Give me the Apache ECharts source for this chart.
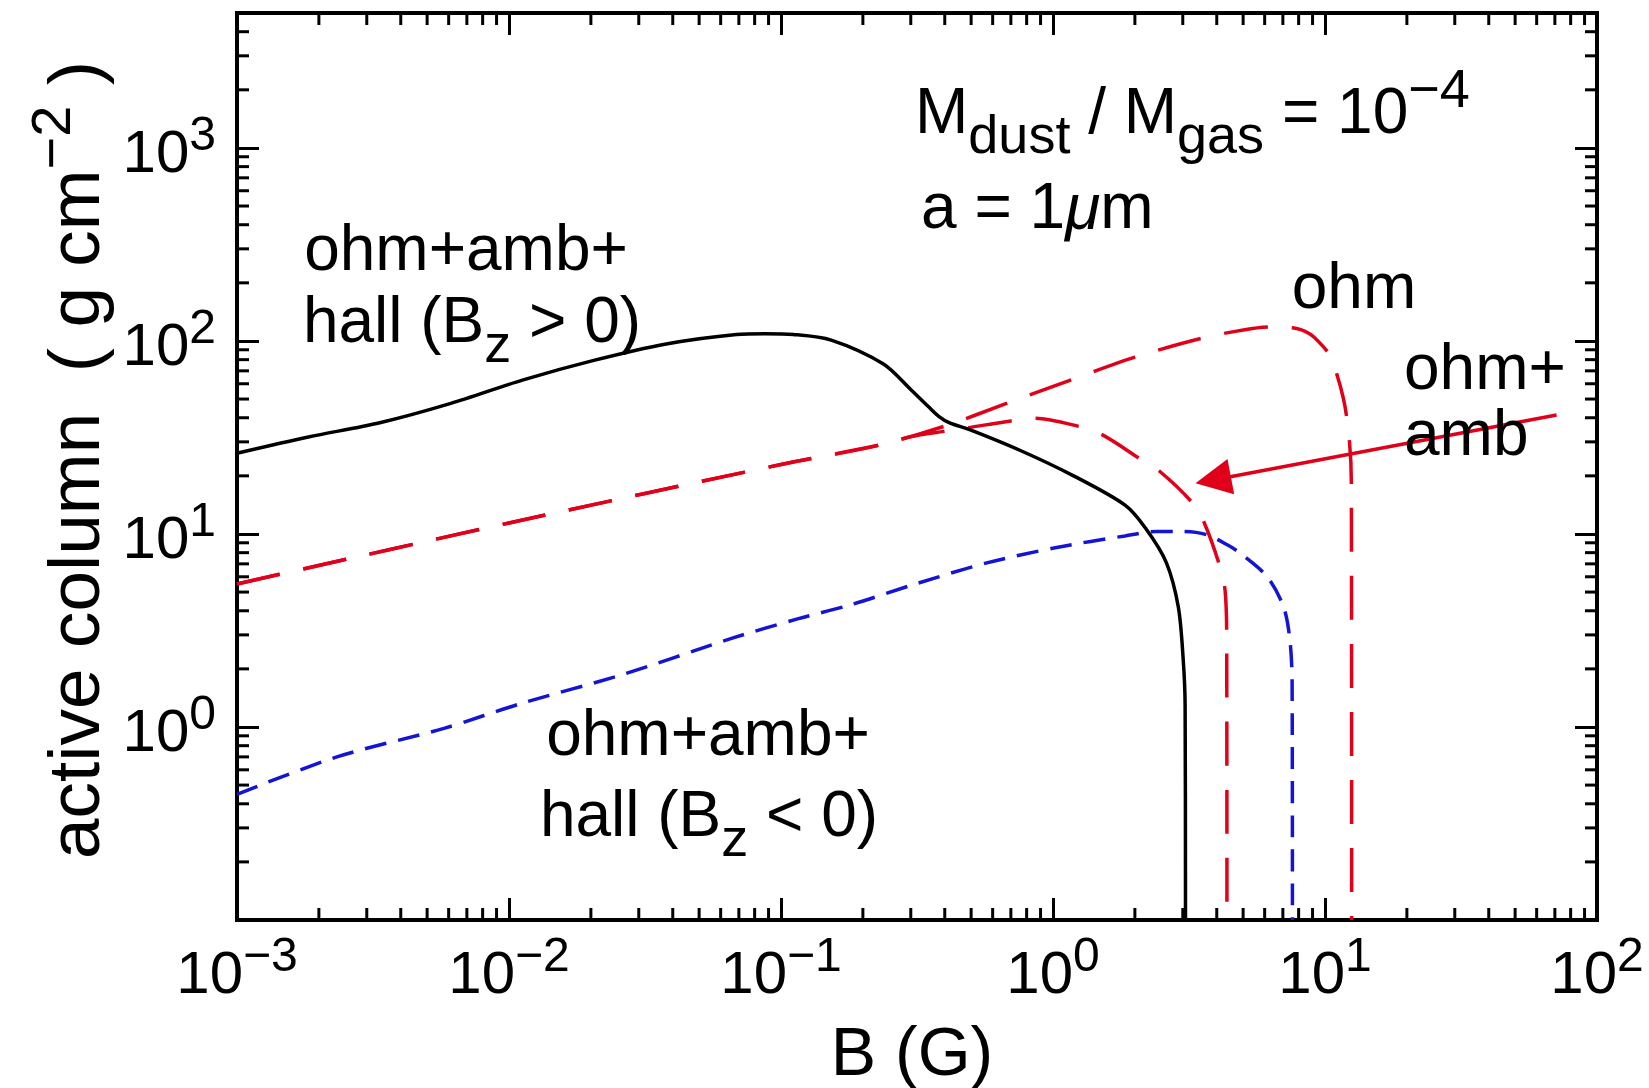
<!DOCTYPE html>
<html>
<head>
<meta charset="utf-8">
<script src="https://cdn.jsdelivr.net/npm/echarts@6/dist/echarts.min.js"></script>
<style>
html,body{margin:0;padding:0;background:#fff;}
#chart{width:1649px;height:1088px;}
</style>
</head>
<body>
<div id="chart"></div>
<script>
// ---------------- data ----------------
const X_MIN = 1e-3, X_MAX = 1e2, Y_MIN = 0.1, Y_MAX = 5000;
const xLabelExponents = [-3, -2, -1, 0, 1, 2];
const yLabelExponents = [0, 1, 2, 3];
const xDecades = [0.001, 0.01, 0.1, 1, 10];
const yDecades = [0.1, 1, 10, 100, 1000];
const minorMultipliers = [2, 3, 4, 5, 6, 7, 8, 9];

// ohm+amb+hall (Bz > 0)  -- black solid
const hallPosB = [0.001, 0.00183, 0.00335, 0.00611, 0.0112, 0.0205, 0.0374, 0.0686, 0.087, 0.111, 0.153, 0.238, 0.301, 0.348, 0.380, 0.417, 0.494, 0.766, 1.19, 1.84, 2.19, 2.61, 2.89, 3.01, 3.06, 3.07];
const hallPosC = [26.2, 31.8, 37.7, 47.5, 62.7, 79.3, 96.2, 108, 109, 108, 101, 75.9, 55.7, 45.7, 40.7, 37.6, 34.7, 26.9, 20.0, 14.1, 10.7, 7.11, 4.17, 2.25, 1.3, 0.1];

// ohm  -- red long dash
const ohmB = [0.001, 0.01, 0.1, 0.228, 0.397, 0.671, 1.17, 2.00, 3.49, 5.01, 6.31, 7.59, 8.77, 9.64, 10.5, 11.7, 12.3, 12.5, 12.53];
const ohmC = [5.51, 11.4, 22.9, 28.8, 36.1, 47.3, 63.0, 82.4, 103, 114, 118, 117, 109, 96.6, 82.4, 49.9, 30.2, 18.3, 0.1];

// ohm+amb  -- red long dash
const ohmAmbB = [0.001, 0.01, 0.1, 0.228, 0.302, 0.397, 0.480, 0.700, 0.861, 1.24, 1.52, 2.09, 2.46, 3.24, 3.60, 4.10, 4.29, 4.35, 4.36];
const ohmAmbC = [5.51, 11.4, 22.9, 28.8, 32.0, 34.0, 35.4, 38.5, 39.8, 36.1, 32.6, 24.5, 21.2, 14.6, 11.4, 6.84, 5.13, 3.0, 0.1];

// ohm+amb+hall (Bz < 0)  -- blue short dash
const hallNegB = [0.001, 0.00233, 0.00577, 0.0112, 0.0262, 0.0649, 0.115, 0.178, 0.319, 0.571, 1.03, 1.84, 2.40, 3.02, 3.67, 4.42, 4.86, 6.11, 7.03, 7.43, 7.57, 7.59];
const hallNegC = [0.448, 0.70, 0.984, 1.33, 1.87, 2.86, 3.63, 4.27, 5.56, 7.08, 8.51, 9.77, 10.3, 10.3, 9.91, 8.71, 7.98, 6.03, 4.22, 2.83, 1.69, 0.1];

// arrow pointing at the ohm+amb curve (data coords)
const arrowFrom = [71, 41.3];
const arrowTo = [3.88, 19.05];

// ---------------- style ----------------
const RED = '#e1001a', BLUE = '#1414d4', BLACK = '#000';
const FF = '"Liberation Sans", Arial, Helvetica, sans-serif';
const K = 0.8465;

function richSet(f, fs, color, raise, drop) {
  const Bb = Math.ceil(raise + K * fs + 2);
  const pb = Bb - K * f, ps = Bb - raise - K * fs, pd = Bb + drop - K * fs;
  const base = {fontSize: f, fontFamily: FF, color: color, verticalAlign: 'top', height: f, padding: [pb, 0, 0, 0]};
  return {
    baseline: Bb,
    rich: {
      n: base,
      i: Object.assign({}, base, {fontStyle: 'italic'}),
      sp: {fontSize: fs, fontFamily: FF, color: color, verticalAlign: 'top', height: fs, padding: [ps, 0, 0, 0]},
      sb: {fontSize: fs, fontFamily: FF, color: color, verticalAlign: 'top', height: fs, padding: [pd, 0, 0, 0]}
    }
  };
}

const tickRich = richSet(60, 48, BLACK, 23, 16);
const annBlack = richSet(64, 54, BLACK, 27, 19);
const annRed = richSet(64, 54, RED, 27, 19);
const annBlue = richSet(64, 54, BLUE, 27, 19);
const xTitleRich = richSet(68, 52, BLACK, 28, 17);
const yTitleRich = richSet(73, 56, BLACK, 30, 17);

function expText(e) {
  const s = e < 0 ? '\u2212' + (-e) : String(e);
  return '{n|10}{sp|' + s + '}';
}
function makeFmt(allowed) {
  return function (v) {
    const e = Math.log10(v);
    const r = Math.round(e);
    if (Math.abs(e - r) > 1e-6 || allowed.indexOf(r) < 0) return '';
    return expText(r);
  };
}

function pairs(b, c) { return b.map((v, i) => [v, c[i]]); }

const minorData = [];
xDecades.forEach(d => minorMultipliers.forEach(m => minorData.push([+(m * d).toPrecision(3), 1, 0])));
yDecades.forEach(d => minorMultipliers.forEach(m => { const v = +(m * d).toPrecision(3); if (v < Y_MAX) minorData.push([1, v, 1]); }));

function renderMinorTick(params, api) {
  const kind = api.value(2);
  const L = 12;
  const st = {stroke: BLACK, lineWidth: 3};
  if (kind === 0) {
    const v = api.value(0);
    const b = api.coord([v, Y_MIN]), t = api.coord([v, Y_MAX]);
    return {type: 'group', children: [
      {type: 'line', shape: {x1: b[0], y1: b[1], x2: b[0], y2: b[1] - L}, style: st},
      {type: 'line', shape: {x1: t[0], y1: t[1], x2: t[0], y2: t[1] + L}, style: st}
    ]};
  }
  const v = api.value(1);
  const l = api.coord([X_MIN, v]), r = api.coord([X_MAX, v]);
  return {type: 'group', children: [
    {type: 'line', shape: {x1: l[0], y1: l[1], x2: l[0] + L, y2: l[1]}, style: st},
    {type: 'line', shape: {x1: r[0], y1: r[1], x2: r[0] - L, y2: r[1]}, style: st}
  ]};
}

const axisLineStyle = {show: true, onZero: false, lineStyle: {color: BLACK, width: 4, cap: 'square'}};
const axisTickStyle = {show: true, inside: true, length: 22, lineStyle: {color: BLACK, width: 3}};

function textEl(x, baseline, rs, text, align) {
  return {
    type: 'text', x: x, y: baseline - rs.baseline, z: 50,
    style: {text: text, rich: rs.rich, align: align, textAlign: align, verticalAlign: 'top', textVerticalAlign: 'top'}
  };
}

const lineCommon = {type: 'line', showSymbol: false, symbol: 'none', smooth: 0.3};

const chart = echarts.init(document.getElementById('chart'), null, {renderer: 'canvas'});
const option = {
  animation: false,
  backgroundColor: '#fff',
  grid: {left: 237, right: 52, top: 13, bottom: 168, containLabel: false},
  xAxis: [
    {type: 'log', logBase: 10, min: X_MIN, max: X_MAX, position: 'bottom',
     axisLine: axisLineStyle, axisTick: axisTickStyle, splitLine: {show: false},
     axisLabel: {show: true, margin: 11, formatter: makeFmt(xLabelExponents), rich: tickRich.rich}},
    {type: 'log', logBase: 10, min: X_MIN, max: X_MAX, position: 'top',
     axisLine: axisLineStyle, axisTick: axisTickStyle, splitLine: {show: false}, axisLabel: {show: false}}
  ],
  yAxis: [
    {type: 'log', logBase: 10, min: Y_MIN, max: Y_MAX, position: 'left',
     axisLine: axisLineStyle, axisTick: axisTickStyle, splitLine: {show: false},
     axisLabel: {show: true, margin: 21, formatter: makeFmt(yLabelExponents), rich: tickRich.rich}},
    {type: 'log', logBase: 10, min: Y_MIN, max: Y_MAX, position: 'right',
     axisLine: axisLineStyle, axisTick: axisTickStyle, splitLine: {show: false}, axisLabel: {show: false}}
  ],
  series: [
    Object.assign({}, lineCommon, {name: 'ohm', data: pairs(ohmB, ohmC), z: 3,
     lineStyle: {color: RED, width: 3.5, type: [44, 24]}}),
    Object.assign({}, lineCommon, {name: 'ohm+amb', data: pairs(ohmAmbB, ohmAmbC), z: 3,
     lineStyle: {color: RED, width: 3.5, type: [44, 24]},
     markLine: {silent: true, animation: false, symbol: ['none', 'triangle'], symbolSize: 36,
       label: {show: false}, emphasis: {disabled: true},
       lineStyle: {color: RED, width: 3.5, type: 'solid'},
       data: [[{coord: arrowFrom}, {coord: arrowTo}]]}}),
    Object.assign({}, lineCommon, {name: 'hall Bz<0', data: pairs(hallNegB, hallNegC), z: 3,
     lineStyle: {color: BLUE, width: 3.5, type: [22, 12]}}),
    Object.assign({}, lineCommon, {name: 'hall Bz>0', data: pairs(hallPosB, hallPosC), z: 4,
     lineStyle: {color: BLACK, width: 3.5, type: 'solid'}}),
    {name: 'minor ticks', type: 'custom', coordinateSystem: 'cartesian2d', silent: true, clip: false, z: 6,
     encode: {x: 0, y: 1}, data: minorData, renderItem: renderMinorTick}
  ],
  graphic: [
    textEl(915, 138, annBlack, '{n|M}{sb|dust}{n| / M}{sb|gas}{n| = 10}{sp|\u22124}', 'left'),
    textEl(921, 233, annBlack, '{n|a = 1}{i|\u03bc}{n|m}', 'left'),
    textEl(466, 275, annBlack, '{n|ohm+amb+}', 'center'),
    textEl(472, 347, annBlack, '{n|hall (B}{sb|z}{n| > 0)}', 'center'),
    textEl(1354, 313, annRed, '{n|ohm}', 'center'),
    textEl(1404, 394, annRed, '{n|ohm+}', 'left'),
    textEl(1404, 460, annRed, '{n|amb}', 'left'),
    textEl(708, 760, annBlue, '{n|ohm+amb+}', 'center'),
    textEl(709, 841, annBlue, '{n|hall (B}{sb|z}{n| < 0)}', 'center'),
    textEl(912, 1080, xTitleRich, '{n|B (G)}', 'center'),
    {type: 'text', x: 104 - yTitleRich.baseline, y: 460, rotation: Math.PI / 2, z: 50,
     style: {text: '{n|active column  ( g cm}{sp|\u22122}{n| )}', rich: yTitleRich.rich,
             align: 'center', textAlign: 'center', verticalAlign: 'top', textVerticalAlign: 'top'}}
  ]
};
chart.setOption(option);
</script>
</body>
</html>
